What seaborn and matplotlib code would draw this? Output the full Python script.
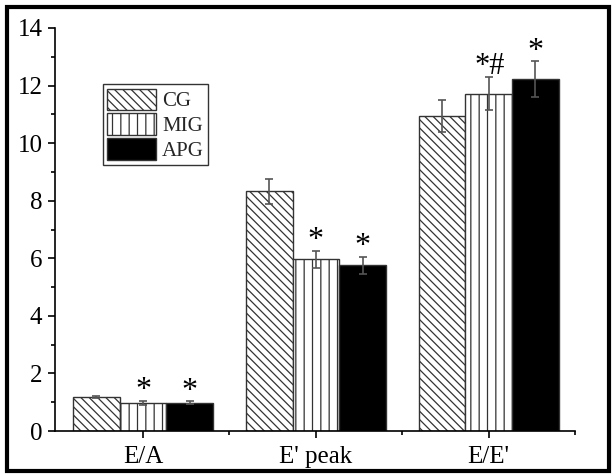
import matplotlib
matplotlib.use("Agg")
import matplotlib.pyplot as plt
import seaborn as sns
import pandas as pd
import numpy as np
from matplotlib.patches import Rectangle, Patch
from matplotlib.ticker import MultipleLocator, FixedLocator

categories = ["E/A", "E' peak", "E/E'"]
groups = ["CG", "MIG", "APG"]
cg_vals = [1.18, 8.33, 10.95]
mig_vals = [0.98, 5.97, 11.72]
apg_vals = [0.98, 5.75, 12.22]
cg_err = [0.05, 0.43, 0.55]
mig_err = [0.06, 0.30, 0.58]
apg_err = [0.05, 0.30, 0.62]
cg_marks = ["", "", ""]
mig_marks = ["*", "*", "*#"]
apg_marks = ["*", "*", "*"]

sns.set_theme(style="ticks")
plt.rcParams['font.family'] = ['Liberation Serif', 'DejaVu Serif']
plt.rcParams['hatch.linewidth'] = 0.9

rows = []
for g, vals in zip(groups, [cg_vals, mig_vals, apg_vals]):
    for c, v in zip(categories, vals):
        rows.append({"cat": c, "group": g, "val": v})
df = pd.DataFrame(rows)

fig = plt.figure(figsize=(6.16, 4.76), dpi=100)
ax = fig.add_axes([55/616, 45/476, 520/616, 403/476])

palette = {"CG": "white", "MIG": "white", "APG": "black"}
sns.barplot(data=df, x="cat", y="val", hue="group", hue_order=groups, order=categories,
            palette=palette, width=0.81, gap=0, edgecolor="#333333", linewidth=1.0,
            errorbar=None, legend=False, ax=ax, saturation=1)

hatches = ["\\\\\\\\", "||", ""]
errs = [cg_err, mig_err, apg_err]
marks = [cg_marks, mig_marks, apg_marks]
for cont, h, e, m in zip(ax.containers, hatches, errs, marks):
    xs, ys = [], []
    for bar in cont:
        bar.set_hatch(h)
        xs.append(bar.get_x() + bar.get_width() / 2)
        ys.append(bar.get_height())
    ax.errorbar(xs, ys, yerr=e, fmt="none", ecolor="#555555", elinewidth=1.2,
                capsize=3, capthick=1.2, zorder=5)
    for x, y, err, mk in zip(xs, ys, e, m):
        if mk:
            ax.annotate(mk, (x, y + err), xytext=(1 if len(mk) > 1 else 0, 2),
                        textcoords="offset points", ha="center", va="baseline",
                        fontsize=22 if len(mk) > 1 else 23, color="black")

ax.set_xlim(-0.51, 2.5)
ax.set_ylim(0, 14)
ax.yaxis.set_major_locator(MultipleLocator(2))
ax.yaxis.set_minor_locator(MultipleLocator(1))
ax.xaxis.set_minor_locator(FixedLocator([0.5, 1.5, 2.5]))
ax.tick_params(axis="both", which="major", direction="out", length=5, width=1.2,
               labelsize=18, color="black", labelcolor="black", pad=4)
ax.tick_params(axis="both", which="minor", direction="out", length=3, width=1.2,
               color="black")
ax.tick_params(axis="x", pad=6)
ax.set_xlabel("")
ax.set_ylabel("")
sns.despine(ax=ax)
for s in ["left", "bottom"]:
    ax.spines[s].set_linewidth(1.2)
    ax.spines[s].set_color("black")

handles = [Patch(facecolor="white", edgecolor="#333333", hatch=hatches[0], label="CG"),
           Patch(facecolor="white", edgecolor="#333333", hatch=hatches[1], label="MIG"),
           Patch(facecolor="black", edgecolor="#333333", label="APG")]
leg = ax.legend(handles=handles, loc="upper left", bbox_to_anchor=(0.092, 0.86),
                fontsize=15, frameon=True, fancybox=False, edgecolor="black",
                handlelength=2.35, handleheight=1.2, handletextpad=0.3,
                labelspacing=0.1, borderpad=0.2, borderaxespad=0)
leg.get_frame().set_linewidth(1.0)

fig.patches.append(Rectangle((0.012, 0.01), 0.976, 0.975, transform=fig.transFigure,
                             fill=False, edgecolor="black", linewidth=3, zorder=10))

fig.savefig("out.png", dpi=100)
